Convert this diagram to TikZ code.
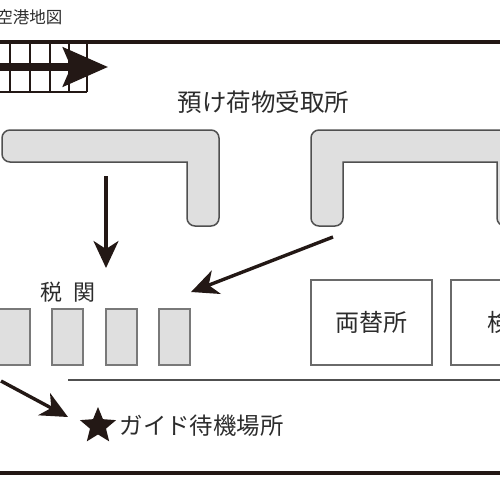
\documentclass[tikz,border=0pt]{standalone}
\usepackage{fontspec}
\setmainfont{Noto Sans CJK JP}
\usetikzlibrary{arrows.meta,shapes.geometric}
\definecolor{ink}{HTML}{231815}
\definecolor{txt}{HTML}{2C2C2C}
\definecolor{belt}{HTML}{DFDFDF}
\definecolor{edgeg}{HTML}{505050}
\tikzset{
  belt/.style={draw=edgeg,line width=1.5pt,fill=belt,rounded corners=8pt},
  desk/.style={draw=gray!95!black,line width=1.6pt,fill=belt,minimum width=31pt,minimum height=56pt,inner sep=0pt},
  room/.style={draw=edgeg!85,line width=1.5pt,fill=white,inner sep=0pt},
  wall/.style={draw=ink,line width=3.4pt},
  thin wall/.style={draw=edgeg,line width=1.7pt},
  gridl/.style={draw=ink,line width=1.1pt},
  flow/.style={draw=ink,line width=3.4pt,-{Stealth[length=27pt,width=25pt,inset=8pt]}},
  label/.style={text=txt,inner sep=0pt},
}
\begin{document}
\begin{tikzpicture}[x=1pt,y=-1pt]
\useasboundingbox (0,0) rectangle (500,500);
\clip (0,0) rectangle (500,500);
% outer walls
\coordinate (tl) at (-5,42); \coordinate (tr) at (505,42);
\coordinate (bl) at (-5,473); \coordinate (br) at (505,473);
\coordinate (il) at (68,380); \coordinate (ir) at (505,380);
\draw[wall] (tl) -- (tr);
\draw[wall] (bl) -- (br);
\draw[thin wall] (il) -- (ir);
% stair grid
\foreach \x in {10,30,50,69,87} \draw[gridl] (\x,42) -- (\x,92);
\draw[gridl] (-5,92) -- (87,92);
\draw[gridl] (-5,67) -- (87,67);
% entry arrow
\coordinate (ea) at (-5,67); \coordinate (eb) at (108,67);
\draw[draw=ink,line width=7.5pt,-{Stealth[length=45pt,width=39pt,inset=8pt]}] (ea) -- (eb);
% belts
\draw[belt] (2,130) -- (219,130) -- (219,226) -- (187,226) [sharp corners] -- (187,162) [rounded corners=8pt] -- (2,162) -- cycle;
\path[belt] (311,130) -- (515,130) -- (515,226) -- (497,226) [sharp corners] -- (497,162) -- (343,162) [rounded corners=8pt] -- (343,226) -- (311,226) -- cycle;
% labels
\node[label,font=\fontsize{16.5}{17}\selectfont,anchor=east] (title) at (62.5,17.5) {空港地図};
\node[label,font=\fontsize{24.5}{25}\selectfont,anchor=center] (bag) at (263.5,102) {預け荷物受取所};
\node[label,font=\fontsize{22}{22}\selectfont] (cust) at (67.5,292) {税\hspace{11pt}関};
% desks
\node[desk] (d1) at (14.5,337) {};
\node[desk] (d2) at (67.5,337) {};
\node[desk] (d3) at (121.5,337) {};
\node[desk] (d4) at (174.5,337) {};
% rooms
\node[room,minimum width=121pt,minimum height=85pt] (ex) at (371.5,322.5) {};
\node[label,font=\fontsize{24}{24}\selectfont] at (371,322.5) {両替所};
\node[room,minimum width=121pt,minimum height=85pt,anchor=west] (qu) at (450,322.5) {};
\node[label,font=\fontsize{24}{24}\selectfont,anchor=west] at (487,322.5) {検};
% flow arrows
\coordinate (a1) at (106,176); \coordinate (a2) at (106,268);
\draw[flow] (a1) -- (a2);
\coordinate (b1) at (333,237); \coordinate (b2) at (191,292);
\draw[flow] (b1) -- (b2);
\coordinate (c1) at (1,381); \coordinate (c2) at (68,417);
\draw[flow] (c1) -- (c2);
% star and label
\node[star,star points=5,star point ratio=2.25,fill=ink,minimum size=38pt,inner sep=0pt] (st) at (98,426) {};
\node[label,font=\fontsize{23.4}{24}\selectfont,anchor=west] (guide) at (119.5,426) {ガイド待機場所};
\end{tikzpicture}
\end{document}
